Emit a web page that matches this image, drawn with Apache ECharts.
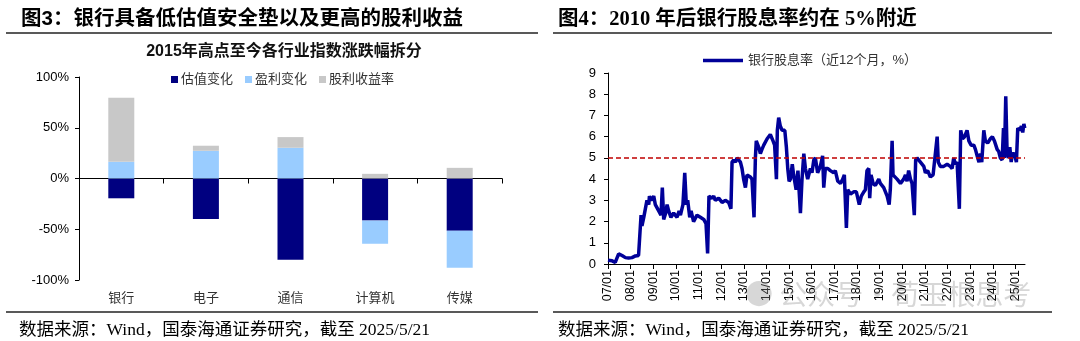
<!DOCTYPE html>
<html><head><meta charset="utf-8">
<script src="https://cdn.jsdelivr.net/npm/echarts@6/dist/echarts.min.js"></script>
<style>html,body{margin:0;padding:0;background:#fff}#c{width:1080px;height:341px}</style>
</head><body><div id="c"></div>
<script>
// ---- Left chart data (图3) ----
const industries = ['银行', '电子', '通信', '计算机', '传媒'];
const valuationChange = [-19.5, -40, -80, -41.5, -51.5];
const earningsChange = [16.5, 27.3, 30.3, -22.8, -36.5];
const dividendYield = [63, 5, 10.5, 4.6, 10.5];
const leftTicks = [-100, -50, 0, 50, 100];

// ---- Right chart data (图4): time in years, dividend yield % ----
const yieldTime = [2007.00,2007.18,2007.32,2007.40,2007.47,2007.62,2007.77,2007.91,2008.06,2008.21,2008.35,2008.43,2008.46,2008.50,2008.58,2008.65,2008.72,2008.80,2008.83,2008.90,2009.02,2009.09,2009.24,2009.34,2009.40,2009.46,2009.55,2009.61,2009.68,2009.78,2009.90,2010.05,2010.14,2010.20,2010.31,2010.39,2010.46,2010.52,2010.61,2010.67,2010.78,2010.93,2011.08,2011.23,2011.33,2011.40,2011.46,2011.59,2011.67,2011.74,2011.89,2012.04,2012.18,2012.33,2012.43,2012.48,2012.55,2012.63,2012.70,2012.85,2012.92,2012.99,2013.07,2013.14,2013.29,2013.36,2013.45,2013.51,2013.55,2013.66,2013.73,2013.80,2013.88,2014.03,2014.17,2014.29,2014.36,2014.44,2014.48,2014.54,2014.61,2014.69,2014.81,2014.88,2014.94,2015.00,2015.06,2015.14,2015.20,2015.31,2015.39,2015.50,2015.57,2015.65,2015.72,2015.82,2015.94,2016.01,2016.09,2016.16,2016.26,2016.38,2016.48,2016.53,2016.60,2016.71,2016.82,2016.97,2017.04,2017.15,2017.27,2017.37,2017.44,2017.53,2017.59,2017.71,2017.85,2017.97,2018.10,2018.19,2018.30,2018.37,2018.44,2018.52,2018.56,2018.62,2018.71,2018.81,2018.96,2019.03,2019.18,2019.33,2019.42,2019.47,2019.55,2019.59,2019.65,2019.77,2019.92,2020.06,2020.14,2020.21,2020.28,2020.36,2020.43,2020.53,2020.59,2020.65,2020.80,2020.95,2021.02,2021.12,2021.24,2021.36,2021.46,2021.54,2021.59,2021.68,2021.83,2021.98,2022.12,2022.20,2022.27,2022.35,2022.42,2022.52,2022.58,2022.66,2022.75,2022.86,2022.94,2023.04,2023.16,2023.23,2023.33,2023.39,2023.45,2023.51,2023.60,2023.67,2023.77,2023.89,2023.98,2024.07,2024.19,2024.26,2024.33,2024.41,2024.47,2024.51,2024.57,2024.63,2024.69,2024.75,2024.81,2024.86,2024.95,2025.04,2025.10,2025.19,2025.26,2025.32,2025.37,2025.41];
const yieldValue = [0.18,0.15,0.08,0.05,0.48,0.40,0.30,0.28,0.30,0.38,0.40,0.45,2.30,1.80,2.20,2.60,3.00,2.80,3.20,3.00,3.20,2.80,2.50,2.30,3.60,2.10,2.40,2.80,2.50,2.20,2.40,2.20,2.50,2.30,2.80,4.30,2.80,3.00,2.20,2.50,2.00,2.30,2.20,2.10,1.90,0.50,3.20,3.10,3.20,3.00,3.10,2.90,3.00,2.90,2.60,4.80,4.90,4.80,5.00,4.80,4.50,4.00,3.60,4.20,4.10,4.00,2.20,5.00,5.80,5.50,5.20,5.40,5.60,5.90,6.10,5.80,5.60,4.00,6.30,6.90,6.50,6.30,6.30,5.50,4.50,3.90,4.00,4.70,4.20,3.50,4.40,2.40,4.00,5.20,4.50,4.00,4.50,4.30,4.90,5.00,4.30,4.60,5.10,3.60,4.50,4.50,4.40,4.30,4.40,3.90,3.80,4.00,4.20,1.70,3.50,3.30,3.40,3.40,2.80,3.20,3.40,3.50,4.40,4.50,3.10,4.20,3.80,3.70,4.00,3.80,3.60,3.20,2.80,3.50,5.80,4.20,4.20,4.00,3.80,4.00,4.20,3.90,4.40,4.00,3.80,2.30,4.90,5.00,4.80,4.60,4.30,4.40,4.10,4.20,5.20,6.00,4.80,4.60,4.60,4.70,4.60,4.50,5.00,4.70,4.80,2.60,6.30,5.90,6.00,6.30,5.80,5.60,5.60,5.40,5.00,4.80,5.20,4.80,6.30,5.80,5.70,5.90,6.00,5.80,5.40,5.30,5.00,4.90,6.40,5.00,7.90,5.20,5.00,5.50,4.80,5.20,5.20,4.80,6.40,6.30,6.50,6.20,6.60,6.40];
const referenceLevel = 5;
const rightYTicks = [0,1,2,3,4,5,6,7,8,9];
const timeStart = 2007, timeEnd = 2025.42;

const CJK = '"Liberation Sans","Noto Sans CJK SC",sans-serif';
const SERIF = '"Liberation Serif","Noto Sans CJK SC",serif';
const NAVY = '#000080', LIGHT = '#99CCFF', GREY = '#C8C8C8', LINE = '#000099';

const chart = echarts.init(document.getElementById('c'), null, {renderer: 'canvas'});
const yieldData = yieldTime.map((t, i) => [t, yieldValue[i]]);

chart.setOption({
  animation: false,
  backgroundColor: '#fff',
  title: [
    {text: '图3：银行具备低估值安全垫以及更高的股利收益', left: 16, top: 4,
     textStyle: {fontFamily: CJK, fontSize: 20.5, fontWeight: 'bold', color: '#000'}},
    {text: '图4：2010 年后银行股息率约在 5%附近', left: 553, top: 4,
     textStyle: {fontFamily: SERIF, fontSize: 20.5, fontWeight: 'bold', color: '#000'}},
    {text: '2015年高点至今各行业指数涨跌幅拆分', left: 279, top: 39, textAlign: 'center',
     textStyle: {fontFamily: CJK, fontSize: 16, fontWeight: 'bold', color: '#111'}},
    {text: '数据来源：Wind，国泰海通证券研究，截至 2025/5/21', left: 14, top: 317,
     textStyle: {fontFamily: SERIF, fontSize: 17.5, fontWeight: 'normal', color: '#000'}},
    {text: '数据来源：Wind，国泰海通证券研究，截至 2025/5/21', left: 553, top: 317,
     textStyle: {fontFamily: SERIF, fontSize: 17.5, fontWeight: 'normal', color: '#000'}}
  ],
  graphic: [
    {type: 'line', shape: {x1: 6, y1: 33, x2: 538, y2: 33}, style: {stroke: '#222', lineWidth: 1.5}},
    {type: 'line', shape: {x1: 553, y1: 33, x2: 1052, y2: 33}, style: {stroke: '#222', lineWidth: 1.5}},
    {type: 'line', shape: {x1: 6, y1: 312, x2: 538, y2: 312}, style: {stroke: '#222', lineWidth: 1.5}},
    {type: 'line', shape: {x1: 553, y1: 312, x2: 1052, y2: 312}, style: {stroke: '#222', lineWidth: 1.5}},
    {type: 'text', left: 745, top: 280, z: 100,
     style: {text: '● 公众号·荀玉根思考', font: '28px "Noto Sans CJK SC"', fill: 'rgba(140,140,140,0.35)'}}
  ],
  legend: [
    {data: ['估值变化', '盈利变化', '股利收益率'], left: 166, top: 68, itemWidth: 7, itemHeight: 7, itemGap: 12,
     icon: 'rect', textStyle: {fontFamily: CJK, fontSize: 13, color: '#333', padding: [0, 0, 0, -2]}},
    {data: [{name: '银行股息率（近12个月，%）', icon: 'rect'}], left: 698, top: 49, itemWidth: 40, itemHeight: 3.5, itemGap: 4,
     textStyle: {fontFamily: CJK, fontSize: 13, color: '#333'}}
  ],
  grid: [
    {left: 79, top: 77, width: 423, height: 203},
    {left: 608, top: 73, width: 417, height: 191}
  ],
  xAxis: [
    {type: 'category', gridIndex: 0, data: industries, position: 'bottom',
     axisLine: {onZero: true, lineStyle: {color: '#000', width: 1}},
     axisTick: {show: true, length: 5, lineStyle: {color: '#000'}},
     axisLabel: {show: false}, splitLine: {show: false}},
    {type: 'category', gridIndex: 0, data: industries, position: 'bottom',
     axisLine: {show: false, onZero: false}, axisTick: {show: false},
     axisLabel: {show: true, margin: 12, fontFamily: CJK, fontSize: 13, color: '#333'}},
    {type: 'value', gridIndex: 1, min: timeStart, max: timeEnd, interval: 1,
     axisLine: {lineStyle: {color: '#000'}}, axisTick: {length: 5, lineStyle: {color: '#000'}},
     splitLine: {show: false},
     axisLabel: {rotate: 90, margin: 6, showMaxLabel: false, fontFamily: '"Liberation Sans",Arial', fontSize: 12.5, color: '#000',
       formatter: v => (Math.abs(v - Math.round(v)) < 1e-6 ? String(Math.round(v)).slice(2) + '/01' : '')}}
  ],
  yAxis: [
    {type: 'value', gridIndex: 0, min: leftTicks[0], max: leftTicks[leftTicks.length - 1], interval: 50,
     axisLine: {show: true, lineStyle: {color: '#000'}}, axisTick: {show: true, length: 4, lineStyle: {color: '#000'}},
     splitLine: {show: false},
     axisLabel: {margin: 10, fontFamily: '"Liberation Sans",Arial', fontSize: 13, color: '#000', formatter: v => v + '%'}},
    {type: 'value', gridIndex: 1, min: rightYTicks[0], max: rightYTicks[rightYTicks.length - 1], interval: 1,
     axisLine: {show: true, lineStyle: {color: '#000'}}, axisTick: {show: true, length: 4, lineStyle: {color: '#000'}},
     splitLine: {show: false},
     axisLabel: {margin: 12, fontFamily: '"Liberation Sans",Arial', fontSize: 13, color: '#000'}}
  ],
  series: [
    {name: '估值变化', type: 'bar', stack: 'a', xAxisIndex: 0, yAxisIndex: 0, data: valuationChange,
     barWidth: 26, itemStyle: {color: NAVY}},
    {name: '盈利变化', type: 'bar', stack: 'a', xAxisIndex: 0, yAxisIndex: 0, data: earningsChange,
     barWidth: 26, itemStyle: {color: LIGHT}},
    {name: '股利收益率', type: 'bar', stack: 'a', xAxisIndex: 0, yAxisIndex: 0, data: dividendYield,
     barWidth: 26, itemStyle: {color: GREY}},
    {name: '银行股息率（近12个月，%）', type: 'line', xAxisIndex: 2, yAxisIndex: 1, data: yieldData,
     showSymbol: false, symbol: 'none', lineStyle: {color: LINE, width: 3.5}, itemStyle: {color: LINE},
     markLine: {silent: true, symbol: ['none', 'none'], label: {show: false},
       lineStyle: {color: '#C00000', type: [5, 3], width: 1.5},
       data: [{yAxis: referenceLevel}]}}
  ]
});
</script></body></html>
